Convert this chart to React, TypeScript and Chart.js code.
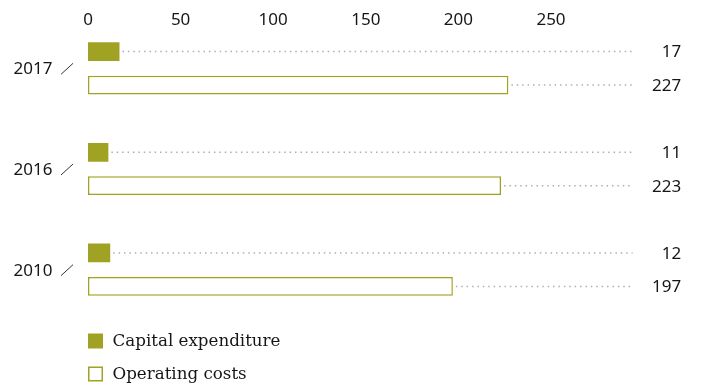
import React, { useEffect, useRef } from 'react';
import { Chart, registerables } from 'chart.js';

Chart.register(...registerables);

const years = ['2017', '2016', '2010'];
const capitalExpenditure = [17, 11, 12];
const operatingCosts = [227, 223, 197];
const seriesNames = ['Capital expenditure', 'Operating costs'];
const axisMax = 300;
const tickStep = 50;
const lastTickShown = 250;

const OLIVE = '#a0a224';
const TEXT = '#161616';
const SANS = '"Noto Sans", "Open Sans", sans-serif';
const SERIF = '"DejaVu Serif", serif';

const overlayPlugin = {
  id: 'overlay',
  afterDatasetsDraw(chart: any) {
    const ctx = chart.ctx as CanvasRenderingContext2D;
    const xs = chart.scales.x;
    const ys = chart.scales.y;
    const dotsEnd = xs.right - 11;
    const valueRight = xs.right + 37.5;
    ctx.save();
    chart.data.datasets.forEach((ds: any, di: number) => {
      const meta = chart.getDatasetMeta(di);
      meta.data.forEach((bar: any, i: number) => {
        const p = bar.getProps(['x', 'y'], true);
        ctx.beginPath();
        ctx.setLineDash([1.5, 3.9]);
        ctx.lineWidth = 1.5;
        ctx.strokeStyle = '#aeaeae';
        ctx.moveTo(p.x + 3, p.y);
        ctx.lineTo(dotsEnd, p.y);
        ctx.stroke();
        ctx.setLineDash([]);
        ctx.fillStyle = TEXT;
        ctx.font = `17px ${SANS}`;
        ctx.textAlign = 'right';
        ctx.textBaseline = 'middle';
        ctx.fillText(String(ds.data[i]), valueRight, p.y + 1);
      });
    });
    // year labels with slash
    years.forEach((yr, i) => {
      const cy = ys.getPixelForValue(i);
      ctx.fillStyle = TEXT;
      ctx.font = `17px ${SANS}`;
      ctx.textAlign = 'right';
      ctx.textBaseline = 'middle';
      ctx.fillText(yr, xs.left - 35.5, cy + 1);
      ctx.beginPath();
      ctx.strokeStyle = '#333';
      ctx.lineWidth = 1;
      ctx.moveTo(xs.left - 27, cy + 6);
      ctx.lineTo(xs.left - 15, cy - 5);
      ctx.stroke();
    });
    // legend
    const lx = xs.left;
    const rows = [chart.chartArea.bottom + 13.5, chart.chartArea.bottom + 46.5];
    chart.data.datasets.forEach((ds: any, di: number) => {
      const top = rows[di];
      if (di === 0) {
        ctx.fillStyle = ds.backgroundColor;
        ctx.fillRect(lx, top, 15, 15);
      } else {
        ctx.fillStyle = '#fff';
        ctx.fillRect(lx, top, 15, 15);
        ctx.strokeStyle = ds.borderColor;
        ctx.lineWidth = 1.5;
        ctx.strokeRect(lx + 0.75, top + 0.75, 13.5, 13.5);
      }
      ctx.fillStyle = TEXT;
      ctx.font = `16.7px ${SERIF}`;
      ctx.textAlign = 'left';
      ctx.textBaseline = 'middle';
      ctx.fillText(ds.label, lx + 24.5, top + 8);
    });
    ctx.restore();
  },
};

export default function App() {
  const ref = useRef<HTMLCanvasElement>(null);
  useEffect(() => {
    if (!ref.current) return;
    const chart = new Chart(ref.current, {
      type: 'bar',
      data: {
        labels: years,
        datasets: [
          {
            label: seriesNames[0],
            data: capitalExpenditure,
            backgroundColor: OLIVE,
            borderWidth: 0,
            categoryPercentage: 0.665,
            barPercentage: 0.56,
          },
          {
            label: seriesNames[1],
            data: operatingCosts,
            backgroundColor: '#ffffff',
            borderColor: OLIVE,
            borderWidth: 1.5,
            borderSkipped: false,
            categoryPercentage: 0.665,
            barPercentage: 0.56,
          },
        ],
      },
      options: {
        indexAxis: 'y',
        responsive: false,
        animation: false,
        layout: { padding: { left: 88, right: 57.4, top: 0, bottom: 70 } },
        plugins: { legend: { display: false }, tooltip: { enabled: false } },
        scales: {
          x: {
            position: 'top',
            min: 0,
            max: axisMax,
            grid: { display: false },
            border: { display: false },
            afterFit: (s: any) => {
              s.height = 18;
            },
            ticks: {
              stepSize: tickStep,
              mirror: true,
              padding: -8,
              color: TEXT,
              font: { family: SANS, size: 17 },
              callback: (v: any) => (Number(v) <= lastTickShown ? String(v) : ''),
            },
          },
          y: { display: false },
        },
      },
      plugins: [overlayPlugin],
    });
    const fontsReady = (document as any).fonts;
    if (fontsReady && fontsReady.load) {
      Promise.all([
        fontsReady.load(`17px "Noto Sans"`),
        fontsReady.load(`17px "DejaVu Serif"`),
      ]).then(() => chart.update()).catch(() => {});
    }
    return () => chart.destroy();
  }, []);
  return (
    <div style={{ position: 'fixed', left: 0, top: 0, width: 701, height: 390, background: '#fff' }}>
      <canvas ref={ref} width={701} height={390} style={{ display: 'block' }} />
    </div>
  );
}
